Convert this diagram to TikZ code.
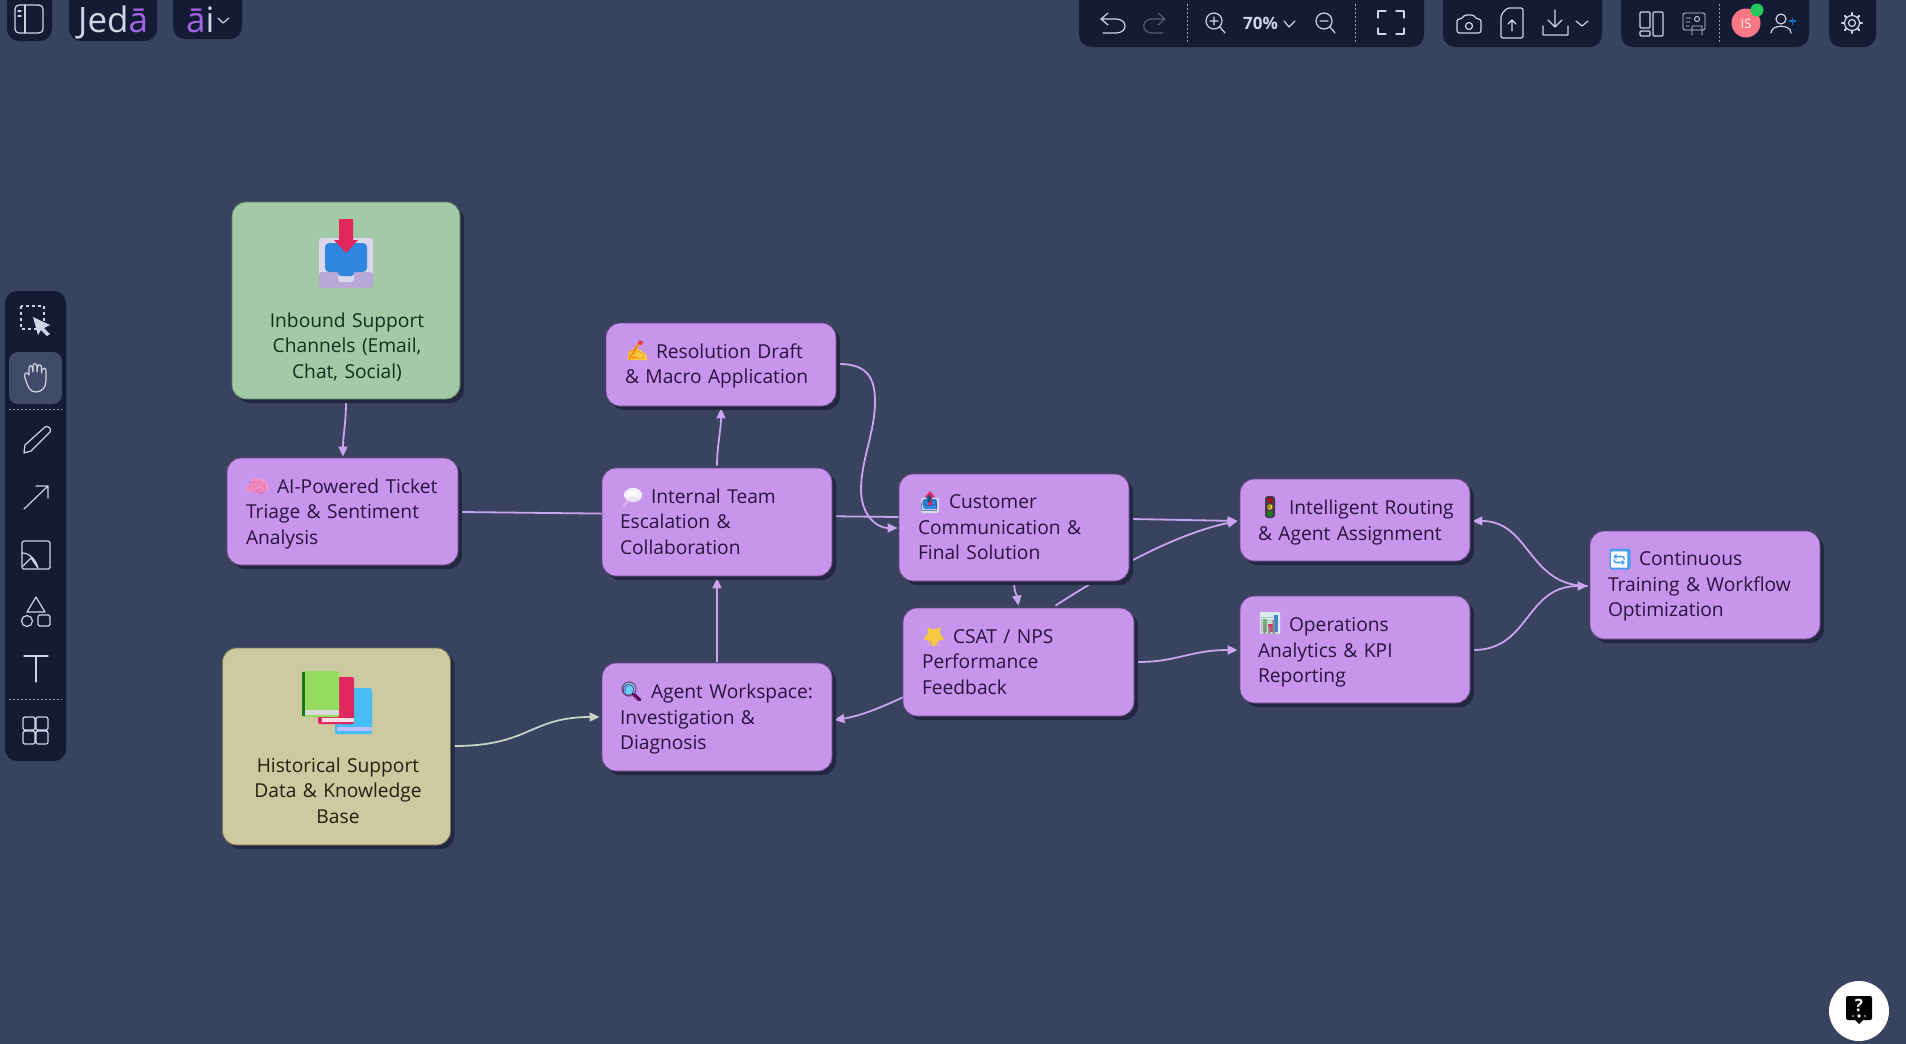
\documentclass[tikz,border=0pt]{standalone}
\usepackage{fontspec}
\setmainfont{Open Sans}
\newfontfamily\emofont{Noto Emoji}
\usetikzlibrary{arrows.meta,shadows,calc}
\definecolor{canvas}{HTML}{39425E}
\definecolor{barfill}{HTML}{141B35}
\definecolor{barhi}{HTML}{414A68}
\definecolor{ink}{HTML}{CFD5E4}
\definecolor{purplebox}{HTML}{C795EC}
\definecolor{greenbox}{HTML}{A3C9A6}
\definecolor{khakibox}{HTML}{CDC9A0}
\definecolor{shade}{HTML}{222840}
\definecolor{wire}{HTML}{C9A5EE}
\definecolor{wiregrey}{HTML}{C6D3C4}
\definecolor{purpletext}{HTML}{2A1240}
\definecolor{greentext}{HTML}{10301C}
\definecolor{khakitext}{HTML}{23200F}
\definecolor{logoviolet}{HTML}{A463E4}
\definecolor{emopink}{HTML}{F593C4}
\definecolor{emopinkdeep}{HTML}{E56FAE}
\definecolor{emogold}{HTML}{F6CB42}
\definecolor{emoorange}{HTML}{F5A623}
\definecolor{emored}{HTML}{E0285E}
\definecolor{emoblue}{HTML}{2E86DE}
\definecolor{emosky}{HTML}{46BDF5}
\definecolor{emogreen}{HTML}{93DC60}
\definecolor{emoloop}{HTML}{4A9CF0}
\definecolor{emotray}{HTML}{DAD8EA}
\definecolor{emolow}{HTML}{B8A8D8}
\pgfdeclarelayer{under}
\pgfsetlayers{under,main}
\newcommand{\emo}[2]{\makebox[31pt][l]{\kern1pt\textcolor{#1}{\emofont\fontsize{16}{16}\selectfont #2}}}
\tikzset{
  boxbase/.style={rounded corners=14pt,draw=#1,line width=0.8pt,inner sep=0pt,
    drop shadow={shadow xshift=4pt,shadow yshift=-4pt,opacity=1,fill=shade}},
  pbox/.style={boxbase=purpletext!60!purplebox,fill=purplebox,minimum width=230pt},
  gbox/.style={boxbase=greentext!50!greenbox,fill=greenbox,minimum width=228pt},
  kbox/.style={boxbase=khakitext!50!khakibox,fill=khakibox,minimum width=228pt},
  plabel/.style={text=purpletext,font=\fontsize{19.2}{25.5}\selectfont,align=left,text width=196pt,inner sep=0pt},
  glabel/.style={font=\fontsize{19.2}{25.5}\selectfont,align=center,text width=210pt,inner sep=0pt},
  link/.style={draw=wire,line width=1.8pt,-{Triangle[length=10pt,width=9pt]}},
  linkplain/.style={draw=wire,line width=1.8pt},
  linkgrey/.style={draw=wiregrey,line width=1.8pt,-{Triangle[length=10pt,width=9pt]}},
  bar/.style={fill=barfill,rounded corners=12pt,draw=none},
  ui/.style={draw=ink,line width=1.2pt,line cap=round,line join=round},
  uidim/.style={draw=ink!35!barfill,line width=1.2pt,line cap=round,line join=round},
  sep/.style={draw=ink!70!barfill,line width=0.6pt,dash pattern=on 1.5pt off 2.5pt},
  uitext/.style={text=ink,inner sep=0pt},
  brainicon/.pic={
    \fill[emopink] (-7,2) circle(4.5) (-3,-3) circle(4.5) (3,-3) circle(4.5) (6.5,1) circle(4.5) (0,2) circle(5.5);},
  handicon/.pic={
    \fill[emogold] (-10,9) -- (-9,1) -- (-3,-3) -- (3,-1) -- (9,4) -- (10,9) -- cycle;
    \draw[emoorange,line width=2.4pt] (-5,3) -- (3,-10);
    \fill[emored!80!orange] (2,-11) -- (6,-9) -- (4,-6) -- (0,-7) -- cycle;},
  balloonicon/.pic={
    \fill[white!93!purplebox] (0,0) ellipse (9 and 7);
    \fill[purplebox!25!white] (0,4) ellipse (6 and 2.5);},
  outboxicon/.pic={
    \fill[emotray,rounded corners=2pt] (-9,-4) rectangle (9,11);
    \fill[emoblue,rounded corners=2pt] (-7,-3) rectangle (7,7);
    \fill[emored] (-2,3) rectangle (2,-5) (-5,-5) -- (0,-11) -- (5,-5) -- cycle;},
  staricon/.pic={
    \fill[emogold,rounded corners=1.5pt] (90:11.5) -- (126:6) -- (162:11.5) -- (198:6) -- (234:11.5)
      -- (270:6) -- (306:11.5) -- (342:6) -- (18:11.5) -- (54:6) -- cycle;},
  lensicon/.pic={
    \draw[violet!70!black,line width=2.6pt,line cap=round] (3,3) -- (9,9);
    \fill[emosky!80!white,draw=violet!40!gray,line width=1.2pt] (-2,-2) circle(7);},
  lighticon/.pic={
    \fill[black!65!purplebox,rounded corners=3pt] (-5,-11) rectangle (5,11);
    \fill[red!75!black] (0,-6.5) circle(2.8);
    \fill[yellow!80!orange] (0,0) circle(2.8);
    \fill[green!60!black] (0,6.5) circle(2.8);},
  charticon/.pic={
    \fill[white!85!teal,rounded corners=1pt] (-10,-11) rectangle (10,11);
    \fill[emogreen!70!teal] (-7.5,9) rectangle (-3,-4);
    \fill[emored] (-2,9) rectangle (2.5,1);
    \fill[emoblue] (3.5,9) rectangle (8,-8);},
  loopicon/.pic={
    \fill[emoloop,rounded corners=2.5pt] (-10.5,-10.5) rectangle (10.5,10.5);},
}
\begin{document}
\begin{tikzpicture}[x=1pt,y=-1pt]
\useasboundingbox (0,0) rectangle (1906,1044);
\begin{pgfonlayer}{under}
\fill[canvas] (0,0) rectangle (1906,1044);
\end{pgfonlayer}

% ---------- boxes
\node[gbox,minimum height=197pt] (inbound) at (346,300.5) {};
\node[kbox,minimum height=197pt] (history) at (336.5,746.5) {};
\node[pbox,minimum width=231pt,minimum height=107pt] (triage) at (342.5,511.5) {};
\node[pbox,minimum height=83pt] (draft) at (721,364.5) {};
\node[pbox,minimum height=108pt] (team) at (717,522) {};
\node[pbox,minimum height=108pt] (workspace) at (717,717) {};
\node[pbox,minimum height=107pt] (customer) at (1014,527.5) {};
\node[pbox,minimum width=231pt,minimum height=108pt] (csat) at (1018.5,662) {};
\node[pbox,minimum height=82pt] (routing) at (1355,520) {};
\node[pbox,minimum height=107pt] (ops) at (1355,649.5) {};
\node[pbox,minimum height=108pt] (training) at (1705,585) {};

% ---------- connectors
\begin{pgfonlayer}{under}
\draw[link] ([shift={(0,3)}]inbound.south) .. controls +(0,20) and ([shift={(0.5,-22)}]triage.north) .. ([shift={(0.5,-1)}]triage.north);
\draw[linkplain] ([shift={(3,0.5)}]triage.east) -- ([shift={(0,-10.5)}]customer.west);
\draw[link] ([shift={(0,-2)}]team.north) .. controls +(0,-20) and ([shift={(0,24)}]draft.south) .. ([shift={(0,2)}]draft.south);
\draw[link] ([shift={(0,-1)}]workspace.north) -- ([shift={(0,2)}]team.south);
\draw[link] ([shift={(3,-0.5)}]draft.east) .. controls +(31,0) and (875,382) .. (875,402) .. controls (875,432) and (861,460) .. (861,490) .. controls (861,514) and (876,528) .. ([shift={(-1,0.5)}]customer.west);
\draw[link] ([shift={(3,-8.5)}]customer.east) -- ([shift={(-2,1)}]routing.west);
\draw[link] ([shift={(0,3)}]customer.south) .. controls +(1,10) and ([shift={(-2,-14)}]csat.north) .. ([shift={(0,-2)}]csat.north);
\draw[link] ([shift={(37,-2)}]csat.north) .. controls (1098,578) and (1170,535) .. ([shift={(-2,1)}]routing.west);
\draw[link] ([shift={(1,35)}]csat.west) .. controls (880,708) and (860,716) .. ([shift={(2,3)}]workspace.east);
\draw[link] ([shift={(3,0)}]csat.east) .. controls (1178,662) and (1190,650) .. ([shift={(-2,0.5)}]ops.west);
\draw[link] ([shift={(3,0.5)}]ops.east) .. controls (1530,650) and (1525,586) .. ([shift={(-2,1)}]training.west);
\draw[link] ([shift={(-2,1)}]training.west) .. controls (1528,586) and (1530,521) .. ([shift={(2,1)}]routing.east);
\draw[linkgrey] ([shift={(3,-0.5)}]history.east) .. controls (530,746) and (530,717) .. ([shift={(-2,0)}]workspace.west);
\end{pgfonlayer}

% ---------- picture icons (emoji artwork)
\fill[emotray,rounded corners=3pt] (319,238) rectangle (373,282);
\fill[emolow,rounded corners=3pt] (319,272) rectangle (373,288);
\fill[emotray,rounded corners=3pt] (338,268) rectangle (354,282);
\fill[emoblue,rounded corners=4pt] (325,243) rectangle (367,272);
\fill[emoblue,rounded corners=3pt] (338,268) rectangle (354,276);
\fill[emored] (339,219) rectangle (353,240) (334,240) -- (358,240) -- (346,253) -- cycle;
\fill[emosky,rounded corners=1.5pt] (335,688) rectangle (372,734);
\fill[white!75!blue] (337,727) rectangle (372,731);
\fill[emored,rounded corners=1.5pt] (318,677) rectangle (354,724);
\fill[white!85!emored] (322,718) rectangle (354,722);
\fill[emogreen,rounded corners=1.5pt] (302,671) rectangle (339,717);
\fill[green!45!black!75!gray] (302,672) rectangle (305,716);
\fill[white!70!gray] (305,710) rectangle (339,715);

\pic at (258,486) {brainicon};
\pic at (637.5,351) {handicon};
\pic at (633,495) {balloonicon};
\pic at (631,691) {lensicon};
\pic at (930,502) {outboxicon};
\pic at (934,636) {staricon};
\pic at (1270,507) {lighticon};
\pic at (1270,623) {charticon};
\pic at (1620,559) {loopicon};

% ---------- labels
\node[glabel,text=greentext] (inboundtext) at (347,347) {Inbound Support\\Channels (Email,\\Chat, Social)};
\node[glabel,text=khakitext] (historytext) at (338,790.5) {Historical Support\\Data \& Knowledge\\Base};
\node[plabel] (triagetext) at (344,514) {\emo{emopinkdeep}{🧠}AI-Powered Ticket\\Triage \& Sentiment\\Analysis};
\node[plabel] (drafttext) at (723,366) {\emo{emoorange!80!red}{✍}Resolution Draft\\\& Macro Application};
\node[plabel] (teamtext) at (718,521.5) {\emo{purplebox!45!white}{💭}Internal Team\\Escalation \&\\Collaboration};
\node[plabel] (workspacetext) at (718,719.5) {\emo{violet!60!black}{🔍}Agent Workspace:\\Investigation \&\\Diagnosis};
\node[plabel] (customertext) at (1016,527.5) {\emo{emoblue!60!black}{📤}Customer\\Communication \&\\Final Solution};
\node[plabel] (csattext) at (1020,662) {\emo{emogold}{⭐}CSAT / NPS\\Performance\\Feedback};
\node[plabel] (routingtext) at (1356,522.5) {\emo{black!70}{🚦}Intelligent Routing\\\& Agent Assignment};
\node[plabel] (opstext) at (1356,652.5) {\emo{black!45}{📊}Operations\\Analytics \& KPI\\Reporting};
\node[plabel] (trainingtext) at (1706,586.5) {\emo{white}{🔄}Continuous\\Training \& Workflow\\Optimization};

% ---------- top-left chrome
\fill[bar] (7,-20) rectangle (52,41);
\fill[bar] (69,-20) rectangle (157,41);
\fill[bar] (173,-20) rectangle (242,39);
\draw[ui,rounded corners=4pt] (15,5) rectangle (43,33);
\draw[ui] (25,5) -- (25,33);
\draw[ui] (18,11) -- (21,11) (18,16) -- (21,16);
\node[uitext,anchor=base west,font=\fontsize{35}{35}\selectfont] (logoword) at (78,32) {Jed\textcolor{logoviolet}{ā}};
\node[uitext,anchor=base west,font=\fontsize{35}{35}\selectfont] (logoai) at (186,32) {\textcolor{logoviolet}{ā}i};
\draw[ui] (218,18) -- (223,23) -- (229,18);

% ---------- top-right chrome
\fill[bar] (1079,-20) rectangle (1424,47);
\fill[bar] (1443,-20) rectangle (1602,47);
\fill[bar] (1621,-20) rectangle (1809,47);
\fill[bar] (1829,-20) rectangle (1876,47);
\draw[ui] (1108,13) -- (1101,19) -- (1108,25) (1101,19) -- (1116,19) .. controls (1128,19) and (1128,33) .. (1116,33) -- (1103,33);
\draw[uidim] (1158,13) -- (1165,19) -- (1158,25) (1165,19) -- (1152,19) .. controls (1141,19) and (1141,33) .. (1152,33) -- (1163,33);
\draw[sep] (1187,4) -- (1187,43);
\draw[ui] (1214,21) circle(8) (1220,27) -- (1225,33) (1210,21) -- (1218,21) (1214,17) -- (1214,25);
\node[uitext,font=\fontsize{17}{17}\selectfont\bfseries] (zoomvalue) at (1260.5,23) {70\%};
\draw[ui] (1284,21) -- (1289,27) -- (1295,21);
\draw[ui] (1324,21) circle(8) (1330,27) -- (1335,33) (1320,21) -- (1328,21);
\draw[sep] (1355,4) -- (1355,43);
\draw[ui] (1378,18) -- (1378,11) -- (1386,11) (1396,11) -- (1404,11) -- (1404,18) (1404,28) -- (1404,34) -- (1396,34) (1386,34) -- (1378,34) -- (1378,28);
\draw[ui,rounded corners=2.5pt] (1457,19) -- (1462,19) -- (1464,15) -- (1474,15) -- (1476,19) -- (1481,19) -- (1481,33) -- (1457,33) -- cycle;
\draw[ui] (1469,26) circle(3.5);
\draw[ui,rounded corners=2pt] (1507,8) -- (1523,8) -- (1523,38) -- (1501,38) -- (1501,15) -- cycle;
\draw[ui] (1512,31) -- (1512,20) (1508,24) -- (1512,20) -- (1516,24);
\draw[ui] (1555,10) -- (1555,27) (1548,20) -- (1555,27) -- (1562,20) (1543,26) -- (1543,35) -- (1568,35) -- (1568,26);
\draw[ui] (1576,21) -- (1582,26) -- (1588,21);
\draw[ui,rounded corners=1pt] (1640,12) rectangle (1650,28) (1640,31) rectangle (1650,36) (1653,12) rectangle (1663,36);
\draw[ui,line width=0.9pt,rounded corners=1.5pt] (1683,13) rectangle (1705,30);
\draw[ui,line width=0.9pt] (1697,19) circle(2.5) (1692,35) -- (1692,26) -- (1702,26) -- (1702,35) (1686,18) -- (1691,18) (1686,22) -- (1690,22) (1686,26) -- (1689,26);
\draw[sep] (1719,4) -- (1719,43);
\fill[emopink!40!red!70!white] (1746,23) circle(14.5);
\node[text=white,font=\fontsize{13}{13}\selectfont,inner sep=0pt] (avatartext) at (1746,24) {IS};
\fill[green!50!teal!85!white] (1757,10) circle(6.5);
\draw[ui] (1781,19) circle(5) (1771,33) .. controls (1771,24) and (1791,24) .. (1791,33);
\draw[draw=cyan!50!blue,line width=1.2pt] (1789,21) -- (1796,21) (1792.5,17.5) -- (1792.5,24.5);
\draw[ui] (1852,23) circle(3.5) (1852,23) circle(7.5);
\foreach \a in {0,45,...,315} {\draw[ui,line width=2pt] (1852,23) ++(\a:8) -- ++(\a:2.2);}

% ---------- left toolbar
\fill[bar] (5,291) rectangle (66,761);
\fill[barhi,rounded corners=9pt] (9,352) rectangle (62,404);
\draw[draw=ink,line width=1.8pt,dash pattern=on 3pt off 3pt] (21,306) rectangle (44,329);
\fill[ink] (33,317) -- (50,325) -- (44,328) -- (50,334) -- (47,336) -- (41,330) -- (38,335) -- cycle;
% open hand
\draw[ui] (25,378) .. controls (23,373) and (27,371) .. (29,375)
  -- (29,368) .. controls (29,365) and (32,365) .. (32.5,368) -- (33,372)
  -- (33,366) .. controls (33,363) and (37,363) .. (37,366) -- (37,372)
  -- (37.5,367) .. controls (38,364) and (41.5,364) .. (41.5,367.5) -- (41.5,373)
  -- (42,370) .. controls (42.5,367.5) and (46,367.5) .. (46,370.5) -- (46,381)
  .. controls (46,388) and (41,392) .. (36,392) .. controls (30,392) and (28,387) .. (25,378);
\draw[ui] (24,453) -- (25,445) -- (45,427) .. controls (48,425) and (52,429) .. (50,432) -- (31,451) -- cycle;
\draw[ui] (24,509) -- (48,486) (36,486) -- (48,486) -- (48,498);
\draw[ui,rounded corners=1.5pt] (22,541) rectangle (50,569);
\draw[ui] (22,553) .. controls (30,553) and (36,560) .. (38,568) (23,566) -- (31,558) -- (38,568);
\draw[ui] (36,597) -- (45,612) -- (27,612) -- cycle;
\draw[ui] (27,621) circle(5.5);
\draw[ui,rounded corners=1.5pt] (38,615) rectangle (50,626);
\draw[ui] (24,656) -- (48,656) (36,656) -- (36,682);
\draw[ui,rounded corners=2pt] (23,717) rectangle (35,730) (36,717) rectangle (48,730) (23,731) rectangle (35,744) (36,731) rectangle (48,744);
\draw[sep] (9,409) -- (62,409) (9,699) -- (62,699);

% ---------- help button
\fill[white] (1859,1011) circle(30);
\fill[black,rounded corners=2pt] (1846,996) rectangle (1872,1020);
\fill[black] (1855,1020) -- (1863,1020) -- (1859,1024) -- cycle;
\node[text=white,font=\fontsize{17}{17}\selectfont\bfseries,inner sep=0pt] (helpmark) at (1859,1005) {?};
\fill[white] (1859,1016) circle(1.8);
\fill[gray] (1853,1016) circle(1.4) (1865,1016) circle(1.4);
\end{tikzpicture}
\end{document}
